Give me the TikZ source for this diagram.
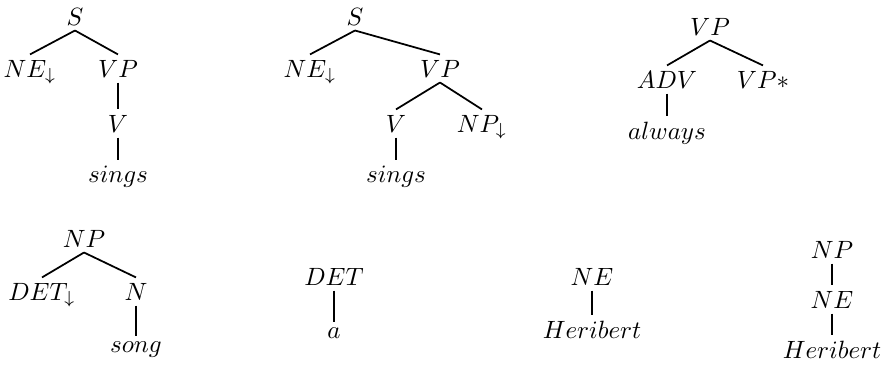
\documentclass[tikz,border=0pt]{standalone}
\usepackage{tikz}
\tikzstyle{every node}=[font=\normalsize]
\tikzstyle{cat} = [inner sep=2pt, anchor=base]
\tikzstyle{branch} = [draw, line width=0.7pt]

\begin{document}
\begin{tikzpicture}[x=0.4pt, y=-0.4pt]
    \useasboundingbox (0,0) rectangle (882,369);
    % Place nodes
    % initial tree for sings (intransitive)
    \node [cat] (s1) at (75,25) {$S$};
    \node [cat] (ne1) at (30,77) {$NE_{\downarrow}$};
    \node [cat] (vp1) at (118,77) {$VP$};
    \node [cat] (v1) at (118,132) {$V$};
    \node [cat] (sings1) at (118,182) {$sings$};
    % initial tree for sings (transitive)
    \node [cat] (s2) at (355,25) {$S$};
    \node [cat] (ne2) at (310,77) {$NE_{\downarrow}$};
    \node [cat] (vp2) at (440,77) {$VP$};
    \node [cat] (v2) at (396,132) {$V$};
    \node [cat] (np2) at (482,132) {$NP_{\downarrow}$};
    \node [cat] (sings2) at (396,182) {$sings$};
    % auxiliary tree for always
    \node [cat] (vp3) at (710,35) {$VP$};
    \node [cat] (adv3) at (667,88) {$ADV$};
    \node [cat] (foot3) at (763,88) {$VP\ast$};
    \node [cat] (always3) at (667,139) {$always$};
    % song
    \node [cat] (np4) at (84,247) {$NP$};
    \node [cat] (det4) at (42,300) {$DET_{\downarrow}$};
    \node [cat] (n4) at (136,300) {$N$};
    \node [cat] (song4) at (136,352) {$song$};
    % a
    \node [cat] (det5) at (334,285) {$DET$};
    \node [cat] (a5) at (334,338) {$a$};
    % Heribert
    \node [cat] (ne6) at (592,285) {$NE$};
    \node [cat] (her6) at (592,338) {$Heribert$};
    \node [cat] (np7) at (832,258) {$NP$};
    \node [cat] (ne7) at (832,308) {$NE$};
    \node [cat] (her7) at (832,358) {$Heribert$};
    % Draw edges
    \path [branch] (s1.south) -- (ne1.north);
    \path [branch] (s1.south) -- (vp1.north);
    \path [branch] (vp1.south) -- (v1.north);
    \path [branch] (v1.south) -- (sings1.north);
    \path [branch] (s2.south) -- (ne2.north);
    \path [branch] (s2.south) -- (vp2.north);
    \path [branch] (vp2.south) -- (v2.north);
    \path [branch] (vp2.south) -- (np2.north);
    \path [branch] (v2.south) -- (sings2.north);
    \path [branch] (vp3.south) -- (adv3.north);
    \path [branch] (vp3.south) -- (foot3.north);
    \path [branch] (adv3.south) -- (always3.north);
    \path [branch] (np4.south) -- (det4.north);
    \path [branch] (np4.south) -- (n4.north);
    \path [branch] (n4.south) -- (song4.north);
    \path [branch] (det5.south) -- (a5.north);
    \path [branch] (ne6.south) -- (her6.north);
    \path [branch] (np7.south) -- (ne7.north);
    \path [branch] (ne7.south) -- (her7.north);
\end{tikzpicture}
\end{document}
